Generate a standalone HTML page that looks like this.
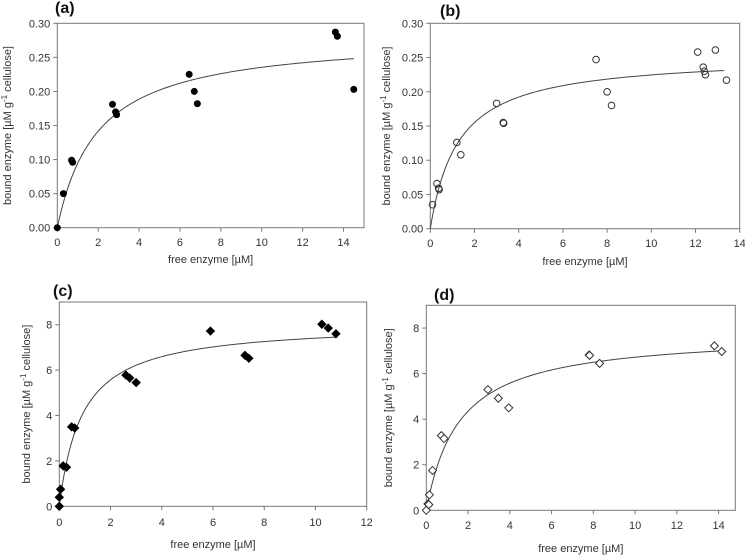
<!DOCTYPE html>
<html><head><meta charset="utf-8"><style>
html,body{margin:0;padding:0;background:#fff;}
svg{display:block;font-family:"Liberation Sans",Arial,sans-serif;}
</style></head><body>
<svg id="fig" width="745" height="555" viewBox="0 0 745 555"></svg>
<script>
const aX=[0,0.3,0.7,0.75,2.7,2.85,2.9,6.45,6.7,6.85,13.6,13.7,14.5];
const aY=[0,0.05,0.099,0.096,0.181,0.17,0.166,0.225,0.2,0.182,0.287,0.281,0.203];
const bX=[0.1,0.3,0.38,0.4,1.2,1.38,3.0,3.3,3.32,7.5,8.0,8.2,12.1,12.35,12.4,12.45,12.9,13.4];
const bY=[0.035,0.066,0.059,0.057,0.126,0.108,0.183,0.155,0.154,0.247,0.2,0.18,0.258,0.236,0.23,0.225,0.261,0.217];
const cX=[0,0,0.05,0.15,0.28,0.48,0.6,2.6,2.75,3.0,5.9,7.25,7.4,10.25,10.5,10.8];
const cY=[0,0.4,0.75,1.78,1.72,3.5,3.45,5.78,5.65,5.45,7.72,6.65,6.52,8.02,7.85,7.6];
const dX=[0,0.08,0.12,0.15,0.3,0.72,0.85,2.95,3.45,3.95,7.8,7.82,8.3,13.8,14.15];
const dY=[0,0.28,0.25,0.68,1.75,3.28,3.15,5.3,4.92,4.5,6.82,6.8,6.45,7.22,6.97];
const aFit=[0.282,1.98,14.5];
const bFit=[0.253,1.265,13.3];
const cFit=[8.07,0.897,10.8];
const dFit=[7.78,1.576,14.15];
const aXT=[0,2,4,6,8,10,12,14], aYT=["0.00","0.05","0.10","0.15","0.20","0.25","0.30"];
const bXT=[0,2,4,6,8,10,12,14], bYT=aYT;
const cXT=[0,2,4,6,8,10,12], cYT=["0","2","4","6","8"];
const dXT=[0,2,4,6,8,10,12,14], dYT=["0","2","4","6","8"];

const NS="http://www.w3.org/2000/svg";
const svg=document.getElementById('fig');
function mk(tag,attrs,parent,txt){const e=document.createElementNS(NS,tag);for(const k in attrs)e.setAttribute(k,attrs[k]);if(txt!==undefined)e.textContent=txt;(parent||svg).appendChild(e);return e;}

const panels=[
 {id:'a',L:57.3,R:364,T:23.3,B:227.7,xmax:15,ymax:0.3,xs:aX,ys:aY,fit:aFit,xt:aXT,yt:aYT,m:'dot',lx:55,ly:13,tickY:246,titleY:263,yTitleX:11},
 {id:'b',L:430.3,R:739.7,T:23.3,B:228.7,xmax:14,ymax:0.3,xs:bX,ys:bY,fit:bFit,xt:bXT,yt:bYT,m:'circle',lx:440,ly:16,tickY:247,titleY:265,yTitleX:390},
 {id:'c',L:59.3,R:366.7,T:302,B:506.3,xmax:12,ymax:9,xs:cX,ys:cY,fit:cFit,xt:cXT,yt:cYT,m:'diamond',lx:53,ly:296,tickY:526,titleY:548,yTitleX:30},
 {id:'d',L:426.3,R:735.3,T:305.3,B:510.3,xmax:14.8,ymax:9,xs:dX,ys:dY,fit:dFit,xt:dXT,yt:dYT,m:'odiamond',lx:434,ly:300,tickY:529,titleY:552,yTitleX:392}
];
panels.forEach(p=>{
 const g=mk('g',{});
 
 
 const sx=v=>p.L+(p.R-p.L)*v/p.xmax;
 const sy=v=>p.B-(p.B-p.T)*v/p.ymax;
 const frame=mk('rect',{x:p.L,y:p.T,width:p.R-p.L,height:p.B-p.T,fill:'none',stroke:'#777','stroke-width':1},g);
 
 
 const lab=mk('text',{x:p.lx,y:p.ly,'font-size':16,'font-weight':'bold',fill:'#111'},g,'('+p.id+')');
 
 
 p.xt.forEach(v=>{
  mk('line',{x1:sx(v),x2:sx(v),y1:p.B,y2:p.B+4,stroke:'#777'},g);
  const t=mk('text',{x:sx(v),y:p.tickY,'font-size':11,'text-anchor':'middle',fill:'#333'},g,String(v));
  
  
 });
 p.yt.forEach(s=>{
  const v=parseFloat(s);
  mk('line',{x1:p.L-4,x2:p.L,y1:sy(v),y2:sy(v),stroke:'#777'},g);
  const t=mk('text',{x:p.L-7,y:sy(v)+4,'font-size':11,'text-anchor':'end',fill:'#333'},g,s);
  
  
 });
 const xt=mk('text',{x:(p.L+p.R)/2,y:p.titleY,'font-size':11,'text-anchor':'middle',fill:'#333'},g,'free enzyme [µM]');
 
 
 const cy=(p.T+p.B)/2;
 const yt=mk('text',{x:p.yTitleX,y:cy,'font-size':11,'text-anchor':'middle',fill:'#333',transform:`rotate(-90 ${p.yTitleX} ${cy})`},g);
 
 
 mk('tspan',{},yt,'bound enzyme [µM g');
 mk('tspan',{dy:-4,'font-size':8},yt,'-1');
 mk('tspan',{dy:4},yt,' cellulose]');
 // fit curve
 const [Bm,K,xe]=p.fit; let d='';
 for(let i=0;i<=200;i++){const x=xe*i/200;const y=Bm*x/(K+x);d+=(i?'L':'M')+sx(x).toFixed(2)+','+sy(y).toFixed(2);}
 const c=mk('path',{d:d,fill:'none',stroke:'#444','stroke-width':1},g);
 
 
 p.xs.forEach((x,i)=>{
  const X=sx(x),Y=sy(p.ys[i]);let e;
  if(p.m==='dot')e=mk('circle',{cx:X,cy:Y,r:3.5,fill:'#000'},g);
  else if(p.m==='circle')e=mk('circle',{cx:X,cy:Y,r:3.3,fill:'none',stroke:'#333','stroke-width':1},g);
  else{const r=4;e=mk('polygon',{points:`${X},${Y-r} ${X+r},${Y} ${X},${Y+r} ${X-r},${Y}`,fill:p.m==='diamond'?'#000':'#fff',stroke:p.m==='diamond'?'#000':'#333','stroke-width':1},g);}
  
  
 });
});
</script>
</body></html>
